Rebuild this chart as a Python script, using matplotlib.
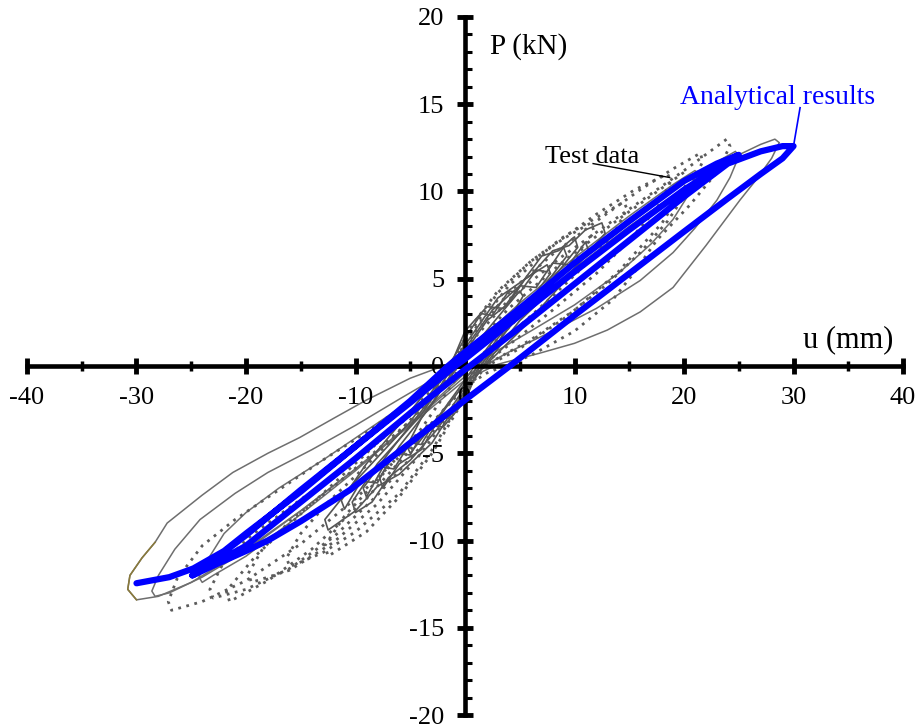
import matplotlib
matplotlib.use("Agg")
import matplotlib.pyplot as plt
from matplotlib.ticker import MultipleLocator

plt.rcParams['font.family'] = ['Liberation Serif', 'DejaVu Serif']
plt.rcParams['axes.unicode_minus'] = False

# Analytical results (blue), one continuous path
ana_u = [-30, -27, -24.8, -22, -20, -15, -10, -5, -1.55, 0, 5, 10, 15, 20, 23, 25,
         23, 20, 15, 10, 5, 0, -0.9, -5, -10, -15, -20, -22.5, -24.9,
         -22, -20, -15, -10, -5, 0, 0.45, 5, 10, 15, 20, 24, 27, 29, 30,
         29, 27, 24, 20, 15, 10, 4.1, 0, -5, -10.5, -15, -18, -20, -22.5, -24.9]
ana_p = [-12.45, -12.1, -11.6, -10.6, -9.6, -7.2, -4.6, -2.0, 0, 0.8, 3.3, 5.9, 8.3, 10.6, 11.6, 12.1,
         11.3, 10.1, 7.8, 5.4, 2.9, 0.4, 0, -2.1, -4.6, -7.1, -9.7, -10.9, -12.0,
         -11.0, -10.3, -7.8, -5.3, -2.7, -0.2, 0, 2.2, 4.7, 7.2, 9.7, 11.6, 12.3, 12.6, 12.6,
         11.9, 11.0, 9.6, 7.7, 5.3, 2.9, 0, -1.95, -4.4, -7.1, -8.9, -10.0, -10.6, -11.3, -12.0]

# Test data, solid loops
s1_u = [0, 5, 10, 15, 20, 24, 27, 28.3, 28.7, 28, 26.5, 25.1, 22, 19, 16, 13, 10, 6.85, 3, 0,
        -5, -10, -15, -20, -25, -28, -30, -30.8, -30.6, -29.5, -28.3, -27.2, -24, -21.2, -18,
        -15.1, -12, -9, -5, -2, 0]
s1_p = [0.3, 3.0, 5.6, 8.0, 10.2, 11.8, 12.7, 13.0, 12.8, 11.9, 10.6, 9.5, 6.9, 4.5, 3.1, 2.06, 1.3, 0.74, 0.1, -0.8,
        -3.4, -5.9, -8.3, -10.5, -12.4, -13.2, -13.4, -12.8, -12.0, -11.0, -10.1, -9.0, -7.4, -6.1, -5.0,
        -4.1, -3.0, -1.95, -0.7, 0.0, 0.3]
s2_u = [0, 5, 10, 15, 20, 23, 24.7, 25.0, 24.2, 23, 21, 19, 16, 12, 8, 4, 0, -5, -10, -15, -20,
        -24, -27, -28.3, -28.6, -28, -26.5, -24.2, -21, -18, -14, -10, -6, -3, 0]
s2_p = [0.5, 3.3, 5.9, 8.3, 10.5, 11.7, 12.3, 12.0, 10.8, 9.5, 7.9, 6.5, 4.9, 3.3, 2.0, 0.8, -0.6, -3.3, -5.9, -8.3, -10.6,
        -12.1, -13.0, -13.2, -12.9, -12.0, -10.5, -8.8, -7.3, -6.1, -4.8, -3.4, -1.9, -0.8, 0.5]
s3_u = [0, 5, 10, 15, 19, 21, 21.3, 20.5, 19, 17, 14, 10, 6, 3, 0, -5, -10, -15, -20, -23, -24,
        -24.3, -23.5, -22, -20, -17, -13, -9, -5, -2, 0]
s3_p = [0.7, 3.6, 6.2, 8.6, 10.4, 11.2, 11.0, 9.9, 8.4, 7.0, 5.3, 3.5, 2.0, 0.9, -0.4, -3.3, -6.0, -8.5, -10.9, -12.0, -12.4,
        -12.1, -11.1, -9.6, -8.4, -7.0, -5.4, -3.7, -2.0, -0.7, 0.7]
tip_u = [-30.0, -30.8, -30.6, -29.5, -28.3]
tip_p = [-13.4, -12.8, -12.0, -11.0, -10.1]

# Test data, small cycles near the origin
m1_u = [0, 3, 5, 5.3, 4, 2, 0, -3, -5, -5.3, -4, -2, 0]
m1_p = [0.5, 2.8, 4.3, 4.0, 2.6, 1.0, -0.8, -3.4, -5.0, -4.6, -3.0, -1.2, 0.5]
m2_u = [0, 2, 4, 5.5, 7.5, 7.8, 6, 3, 0, -2, -4, -6, -7.5, -7.8, -6, -3, 0]
m2_p = [0.8, 2.6, 3.6, 5.0, 5.8, 5.3, 3.8, 1.6, -1.0, -2.6, -4.8, -5.6, -7.0, -6.4, -4.6, -2.2, 0.8]
m3_u = [0, 2.5, 5, 7, 8.5, 10, 10.3, 8, 4, 0, -2.5, -5, -7, -8.5, -10, -10.3, -8, -4, 0]
m3_p = [1.0, 3.2, 4.6, 6.3, 6.6, 7.4, 6.8, 5.0, 2.2, -1.2, -3.6, -5.4, -6.4, -7.8, -8.4, -7.8, -5.6, -2.8, 1.0]
m4_u = [0, 3, 6, 8, 9.5, 11, 12.5, 12.8, 10, 5, 0, -3, -6, -8, -10, -12.5, -12.8, -10, -5, 0]
m4_p = [1.2, 3.9, 5.2, 6.6, 6.9, 7.8, 8.2, 7.6, 5.6, 2.6, -1.4, -4.4, -6.2, -6.9, -8.3, -9.4, -8.8, -6.6, -3.2, 1.2]
m5_u = [0, 1.5, 2.5, 4, 5, 6.5, 7.5, 9, 9.3, 7, 3.5, 0, -1.5, -2.5, -4, -5, -6.5, -7.5, -9, -9.3, -7, -3.5, 0]
m5_p = [1.6, 3.0, 2.9, 4.3, 4.2, 5.5, 5.4, 6.8, 6.3, 4.4, 1.8, -1.6, -3.0, -2.9, -4.5, -4.4, -5.9, -5.8, -7.5, -7.0, -5.0, -2.2, 1.6]
m6_u = [0, 2, 3.5, 5, 6.5, 8, 9.5, 11, 11.3, 9, 5, 1, 0, -2, -3.5, -5, -6.5, -8, -9.5, -11, -11.3, -9, -5, -1, 0]
m6_p = [2.0, 3.4, 3.3, 4.6, 4.5, 5.9, 5.8, 7.1, 6.6, 4.8, 2.0, -0.5, -2.0, -3.5, -3.4, -5.1, -5.0, -6.7, -6.6, -8.2, -7.7, -5.6, -2.6, 0.5, 2.0]

# Test data, dotted loops
d1_u = [0, 4, 8.7, 14.8, 20, 23.9, 24.2, 23, 20.5, 17.5, 15.5, 13.5, 10, 6, 2, 0, -5, -10, -15, -20,
        -24, -26.8, -27.1, -26.3, -24, -21, -17, -13, -9, -5, -2, 0]
d1_p = [1.0, 3.8, 6.2, 8.9, 11.2, 13.0, 12.6, 11.1, 9.2, 7.2, 5.4, 3.8, 2.0, 0.6, -0.4, -1.2, -4.6, -7.6, -10.2, -12.3,
        -13.5, -14.0, -13.5, -12.2, -10.3, -8.8, -7.1, -5.4, -3.8, -2.0, -0.6, 1.0]
d2_u = [0, 4, 8, 12, 16, 19, 21.5, 21.7, 20.5, 18.5, 16, 13, 9, 5, 2, 0, -4, -8, -12, -16, -20,
        -23, -23.3, -22, -19.5, -16, -12, -8, -4, -1.5, 0]
d2_p = [1.2, 4.2, 6.4, 8.3, 10.1, 11.3, 12.2, 11.7, 10.2, 8.3, 6.5, 4.7, 2.7, 1.0, 0.0, -1.4, -4.6, -7.4, -9.8, -11.6, -12.8,
        -13.3, -12.8, -11.2, -9.7, -8.1, -6.3, -4.4, -2.3, -0.6, 1.2]
d3_u = [0, 4, 8, 12, 15.5, 18.5, 18.8, 17.5, 15, 12, 8, 4, 1, 0, -4, -8, -12, -16, -19.5,
        -19.8, -18.5, -16, -12, -8, -4, -1, 0]
d3_p = [1.4, 4.6, 6.9, 8.7, 10.1, 11.0, 10.6, 9.0, 7.2, 5.3, 3.2, 1.2, -0.2, -1.5, -5.0, -7.9, -10.1, -11.7, -12.4,
        -11.9, -10.5, -8.9, -6.9, -4.8, -2.6, -0.4, 1.4]
d4_u = [0, 3, 6, 9, 12, 14.5, 14.8, 13.5, 11, 8, 5, 2, 0, -3, -6, -10, -13, -16,
        -16.3, -15, -12.5, -9, -5, -2, 0]
d4_p = [1.5, 4.2, 6.0, 7.4, 8.5, 9.4, 9.0, 7.5, 5.8, 4.0, 2.3, 0.6, -1.6, -4.8, -7.3, -9.5, -10.7, -11.5,
        -11.0, -9.6, -7.8, -5.7, -3.1, -1.0, 1.5]
d5_u = [0, 3, 6, 9, 11.5, 11.8, 10, 7, 4, 1, 0, -3, -6, -9, -12.5, -12.8, -11, -7.5, -4, -1, 0]
d5_p = [1.8, 4.3, 6.0, 7.3, 8.2, 7.7, 6.1, 4.1, 2.2, 0.3, -1.8, -5.0, -7.5, -9.5, -10.9, -10.3, -8.6, -6.2, -3.6, -0.9, 1.8]
d6_u = [0, 4, 9, 14, 18, 20, 20.3, 18, 14, 10, 6, 2, 0, -4, -9, -14, -18, -21.5, -21.8, -19, -14, -9, -4, 0]
d6_p = [0.6, 3.3, 6.0, 8.4, 10.2, 11.1, 10.5, 8.2, 5.4, 3.2, 1.5, 0.1, -1.0, -4.1, -7.6, -10.5, -12.3, -13.5, -12.9, -10.8, -7.9, -5.0, -2.0, 0.6]

fig = plt.figure(figsize=(9.21, 7.28), dpi=100)
ax = fig.add_axes([27 / 921, 13 / 728, 876 / 921, 698 / 728])

# Test data
for u, p in [(s1_u, s1_p), (s2_u, s2_p), (s3_u, s3_p)]:
    ax.plot(u, p, color='#6e6e6e', lw=1.1, zorder=1)
for u, p in [(m1_u, m1_p), (m2_u, m2_p), (m3_u, m3_p), (m4_u, m4_p), (m5_u, m5_p), (m6_u, m6_p)]:
    ax.plot(u, p, color='#555555', lw=1.2, zorder=1)
for u, p in [(d1_u, d1_p), (d2_u, d2_p), (d3_u, d3_p), (d4_u, d4_p), (d5_u, d5_p), (d6_u, d6_p)]:
    ax.plot(u, p, color='#5c5c5c', lw=2.0, ls=(0, (1, 2)), zorder=1)
ax.plot(tip_u, tip_p, color='#8a7a3a', lw=1.1, zorder=1)

# Analytical results
ax.plot(ana_u, ana_p, color='#0000ff', lw=4.5, solid_capstyle='round',
        solid_joinstyle='round', zorder=3)

# Axes through the origin
ax.set_xlim(-40, 40)
ax.set_ylim(-20, 20)
ax.spines['left'].set_position(('data', 0))
ax.spines['bottom'].set_position(('data', 0))
ax.spines['right'].set_visible(False)
ax.spines['top'].set_visible(False)
for s in ['left', 'bottom']:
    ax.spines[s].set_linewidth(3.3)
ax.patch.set_visible(False)

ax.xaxis.set_major_locator(MultipleLocator(10))
ax.xaxis.set_minor_locator(MultipleLocator(5))
ax.yaxis.set_major_locator(MultipleLocator(5))
ax.yaxis.set_minor_locator(MultipleLocator(1))
ax.tick_params(which='major', direction='inout', length=12, width=3.5,
               labelsize=19, pad=9)
ax.tick_params(axis='x', which='minor', direction='inout', length=7, width=2.5)
ax.tick_params(axis='y', which='minor', direction='in', length=5, width=2.2)

# Labels and annotations
ax.text(2.3, 18.3, 'P (kN)', fontsize=21, ha='left', va='center')
ax.text(30.9, 1.5, 'u (mm)', fontsize=22, ha='left', va='center')
ax.text(7.3, 12.0, 'Test data', fontsize=19, ha='left', va='center', zorder=4)
ax.plot([11.7, 18.7], [11.6, 10.8], color='black', lw=1.0, zorder=4)
ax.text(19.6, 15.4, 'Analytical results', fontsize=20, color='#0000ff',
        ha='left', va='center', zorder=4)
ax.plot([30.0, 30.6], [12.6, 14.8], color='#0000ff', lw=1.2, zorder=4)

fig.savefig('out.png', dpi=100)
